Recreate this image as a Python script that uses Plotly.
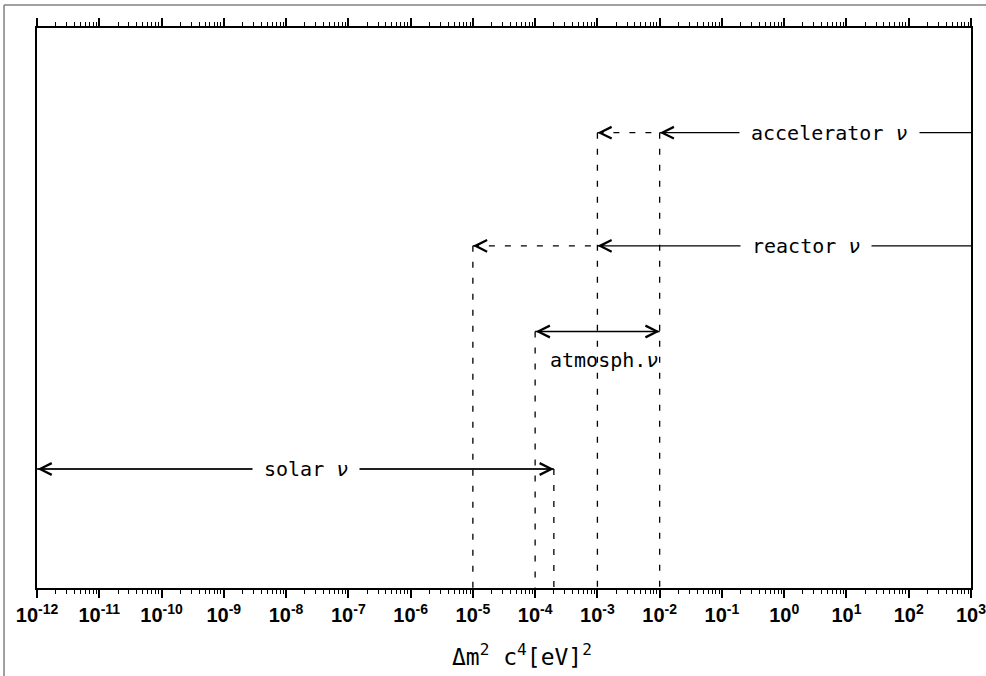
import numpy as np
import plotly.graph_objects as go

# ---- data ----
experiments = ["accelerator", "reactor", "atmospheric", "solar"]
labels = ["accelerator <i>ν</i>", "reactor <i>ν</i>", "atmosph.<i>ν</i>", "solar <i>ν</i>"]
levels = [0.813, 0.611, 0.458, 0.2125]          # row height of each band (arbitrary units)
solid_lo = [1e-2, 1e-3, 1e-4, 1e-12]            # Δm² range reached (solid part), eV²
solid_hi = [1e3, 1e3, 1e-2, 2e-4]
dashed_lo = [1e-3, 1e-5, None, None]             # extended (dashed) reach
double_headed = [False, False, True, True]

# vertical dashed drop lines: x position and the level they start from
drop_x = [1e-5, 1e-4, 2e-4, 1e-3, 1e-2]
drop_from = [0.611, 0.458, 0.2125, 0.813, 0.813]

# label placement (paper x, y offset in paper) -- layout only
label_x = [0.849, 0.823, 0.6066, 0.288]
label_dy = [0.0, 0.0, -0.051, 0.0]
label_bg = [True, True, False, True]

decades = list(range(-12, 4))
tick_vals = [10.0 ** d for d in decades]
tick_text = [f"10<sup>{d}</sup>" for d in decades]
minor_vals = [m * 10.0 ** d for d in decades[:-1] for m in range(2, 10)]

fig = go.Figure()

solid_style = dict(color="black", width=1.3)
dash_style = dict(color="black", width=1.3, dash="6px,10px")

for i, name in enumerate(experiments):
    # first band is also attached to the top (mirror) axis so that axis is drawn
    fig.add_trace(go.Scatter(x=[solid_lo[i], solid_hi[i]], y=[levels[i], levels[i]],
                             mode="lines", line=solid_style, showlegend=False,
                             hoverinfo="skip", name=name, xaxis="x2" if i == 0 else "x"))
    if dashed_lo[i] is not None:
        fig.add_trace(go.Scatter(x=[dashed_lo[i], solid_lo[i]], y=[levels[i], levels[i]],
                                 mode="lines", line=dash_style, showlegend=False,
                                 hoverinfo="skip", name=name + " (ext)"))

for xv, y0 in zip(drop_x, drop_from):
    fig.add_trace(go.Scatter(x=[xv, xv], y=[y0, 0], mode="lines", line=dash_style,
                             showlegend=False, hoverinfo="skip"))

annotations = []
head = dict(arrowhead=5, arrowsize=2.3, arrowwidth=1, arrowcolor="black", text="",
            showarrow=True, font=dict(size=1), borderpad=0)
for i in range(len(experiments)):
    if double_headed[i]:
        annotations.append(dict(x=np.log10(solid_hi[i]), y=levels[i], xref="x", yref="y",
                                ax=np.log10(solid_lo[i]), ay=levels[i], axref="x", ayref="y",
                                arrowside="end+start", startarrowhead=5, startarrowsize=2.3,
                                **head))
    else:
        annotations.append(dict(x=np.log10(solid_lo[i]), y=levels[i], xref="x", yref="y",
                                ax=6, ay=0, **head))
        if dashed_lo[i] is not None:
            annotations.append(dict(x=np.log10(dashed_lo[i]), y=levels[i], xref="x", yref="y",
                                    ax=6, ay=0, **head))

text_font = dict(family="DejaVu Sans Mono", size=20, color="black")
for i in range(len(experiments)):
    a = dict(x=label_x[i], y=levels[i] + label_dy[i], xref="paper", yref="y",
             text=labels[i], showarrow=False, font=text_font,
             xanchor="center", yanchor="middle")
    if label_bg[i]:
        a.update(bgcolor="white", borderpad=11)
    annotations.append(a)

annotations.append(dict(x=0.519, y=-0.12, xref="paper", yref="paper",
                        text="Δm<sup>2</sup> c<sup>4</sup>[eV]<sup>2</sup>",
                        showarrow=False, font=dict(family="DejaVu Sans Mono", size=23, color="black"),
                        xanchor="center", yanchor="middle"))

shapes = [
    dict(type="line", xref="paper", yref="paper", x0=-0.0353, x1=-0.0353, y0=-0.2, y1=1.041,
         line=dict(color="#808080", width=1.5)),
    dict(type="line", xref="paper", yref="paper", x0=-0.0353, x1=1.03, y0=1.041, y1=1.041,
         line=dict(color="#808080", width=1.5)),
]

axis_common = dict(type="log", range=[-12, 3], tickmode="array", tickvals=tick_vals,
                   ticks="outside", ticklen=8, tickwidth=1.5, tickcolor="black",
                   showline=True, linewidth=2, linecolor="black", showgrid=False,
                   zeroline=False, automargin=False,
                   minor=dict(tickmode="array", tickvals=minor_vals, ticks="outside",
                              ticklen=4, tickwidth=1.2, tickcolor="black", showgrid=False))

fig.update_layout(
    width=986, height=676,
    margin=dict(l=37, r=15, t=28, b=88, pad=0, autoexpand=False),
    paper_bgcolor="white", plot_bgcolor="white",
    annotations=annotations, shapes=shapes,
    xaxis=dict(**axis_common, ticktext=tick_text, ticklabeloverflow="allow",
               tickfont=dict(family="Liberation Sans", size=20, color="black", weight="bold")),
    xaxis2=dict(**axis_common, overlaying="x", side="top", anchor="y",
                showticklabels=False),
    yaxis=dict(range=[0, 1], showline=True, linewidth=2, linecolor="black", mirror=True,
               showticklabels=False, ticks="", showgrid=False, zeroline=False,
               automargin=False),
)

fig.write_html("out.html")
